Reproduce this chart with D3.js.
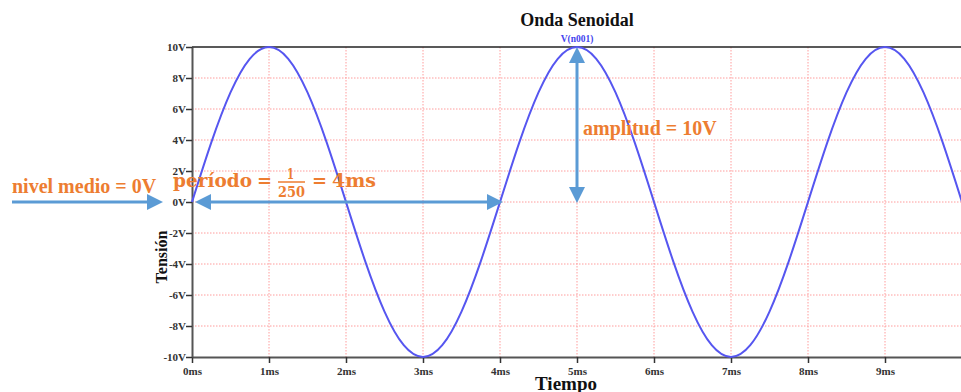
<!DOCTYPE html>
<html>
<head>
<meta charset="utf-8">
<script src="https://cdn.jsdelivr.net/npm/d3@7"></script>
<style>
  body { margin: 0; background: #fff; }
  svg { display: block; }
  text { font-family: "Liberation Serif", "Times New Roman", serif; font-weight: bold; }
</style>
</head>
<body>
<svg id="chart" width="961" height="392"></svg>
<script>
// DATA
// tiempo (ms), muestras cada 0.25 ms leidas de la traza
const tiempo = [
  0, 0.25, 0.5, 0.75, 1, 1.25, 1.5, 1.75, 2, 2.25, 2.5, 2.75, 3, 3.25, 3.5, 3.75,
  4, 4.25, 4.5, 4.75, 5, 5.25, 5.5, 5.75, 6, 6.25, 6.5, 6.75, 7, 7.25, 7.5, 7.75,
  8, 8.25, 8.5, 8.75, 9, 9.25, 9.5, 9.75, 10
];
// tension (V)
const tension = [
  0, 3.83, 7.07, 9.24, 10, 9.24, 7.07, 3.83, 0, -3.83, -7.07, -9.24, -10, -9.24, -7.07, -3.83,
  0, 3.83, 7.07, 9.24, 10, 9.24, 7.07, 3.83, 0, -3.83, -7.07, -9.24, -10, -9.24, -7.07, -3.83,
  0, 3.83, 7.07, 9.24, 10, 9.24, 7.07, 3.83, 0
];
const xTicks = [0, 1, 2, 3, 4, 5, 6, 7, 8, 9];
const yTicks = [10, 8, 6, 4, 2, 0, -2, -4, -6, -8, -10];

const titulo = "Onda Senoidal";
const serie = "V(n001)";

// SCALES
const svg = d3.select("#chart");
const x = d3.scaleLinear().domain([0, 10]).range([192, 962]);
const y = d3.scaleLinear().domain([-10, 10]).range([357, 47]);

const orange = "#ed7d31";
const blue = "#5b9bd5";

// GRID
svg.append("g")
  .selectAll("line")
  .data(xTicks.filter(d => d > 0))
  .join("line")
  .attr("x1", d => x(d)).attr("x2", d => x(d))
  .attr("y1", y(10)).attr("y2", y(-10))
  .attr("stroke", "#ff9c9c")
  .attr("stroke-width", 1)
  .attr("stroke-dasharray", "1.5,1.5");

svg.append("g")
  .selectAll("line")
  .data(yTicks.filter(d => d > -10 && d < 10))
  .join("line")
  .attr("x1", x(0)).attr("x2", 961)
  .attr("y1", d => y(d)).attr("y2", d => y(d))
  .attr("stroke", "#ff9c9c")
  .attr("stroke-width", 1)
  .attr("stroke-dasharray", "1.5,1.5");

// AXES
const xAxis = svg.append("g")
  .attr("transform", `translate(0,${y(-10)})`)
  .call(d3.axisBottom(x).tickValues(xTicks).tickFormat(d => d + "ms").tickSize(6).tickSizeOuter(0));
xAxis.select(".domain").attr("stroke", "#555").attr("stroke-width", 2);
xAxis.selectAll(".tick line").attr("stroke", "#333").attr("stroke-width", 1.5);
xAxis.selectAll(".tick text")
  .attr("y", 10)
  .style("font-family", "Liberation Serif, serif")
  .style("font-size", "11px").style("font-weight", "bold").attr("fill", "#333");

const yAxis = svg.append("g")
  .attr("transform", `translate(${x(0)},0)`)
  .call(d3.axisLeft(y).tickValues(yTicks).tickFormat(d => d + "V").tickSize(6).tickSizeOuter(0));
yAxis.select(".domain").attr("stroke", "#555").attr("stroke-width", 2);
yAxis.selectAll(".tick line").attr("stroke", "#333").attr("stroke-width", 1.5);
yAxis.selectAll(".tick text")
  .attr("x", -6)
  .style("font-family", "Liberation Serif, serif")
  .style("font-size", "11px").style("font-weight", "bold").attr("fill", "#333");

// top border
svg.append("line")
  .attr("x1", x(0)).attr("x2", 961)
  .attr("y1", y(10)).attr("y2", y(10))
  .attr("stroke", "#222").attr("stroke-width", 1.5);

// WAVE
const line = d3.line()
  .x(d => x(d[0]))
  .y(d => y(d[1]))
  .curve(d3.curveNatural);

svg.append("path")
  .datum(d3.zip(tiempo, tension))
  .attr("fill", "none")
  .attr("stroke", "#5656f0")
  .attr("stroke-width", 2)
  .attr("d", line);

// TITLES
svg.append("text")
  .attr("x", x(5)).attr("y", 26)
  .attr("text-anchor", "middle")
  .style("font-size", "18px").attr("fill", "#111")
  .text(titulo);

svg.append("text")
  .attr("x", x(5)).attr("y", 42)
  .attr("text-anchor", "middle")
  .style("font-size", "9.5px").attr("fill", "#4444ee")
  .text(serie);

svg.append("text")
  .attr("x", 566).attr("y", 390)
  .attr("text-anchor", "middle")
  .style("font-size", "19px").attr("fill", "#111")
  .text("Tiempo");

svg.append("text")
  .attr("transform", `translate(167,257) rotate(-90)`)
  .attr("text-anchor", "middle")
  .style("font-size", "16px").attr("fill", "#111")
  .text("Tensión");

// ANNOTATIONS
const arrow = (x1, y1, x2, y2, both) => {
  const ang = Math.atan2(y2 - y1, x2 - x1);
  const L = 16, W = 8;
  const head = (tx, ty, a) => {
    const bx = tx - L * Math.cos(a), by = ty - L * Math.sin(a);
    const px = -Math.sin(a) * W, py = Math.cos(a) * W;
    return `M${tx},${ty}L${bx + px},${by + py}L${bx - px},${by - py}Z`;
  };
  const sx = both ? x1 + L * Math.cos(ang) * 0.8 : x1;
  const sy = both ? y1 + L * Math.sin(ang) * 0.8 : y1;
  svg.append("line")
    .attr("x1", sx).attr("y1", sy)
    .attr("x2", x2 - L * Math.cos(ang) * 0.8).attr("y2", y2 - L * Math.sin(ang) * 0.8)
    .attr("stroke", blue).attr("stroke-width", 3);
  svg.append("path").attr("d", head(x2, y2, ang)).attr("fill", blue);
  if (both) svg.append("path").attr("d", head(x1, y1, ang + Math.PI)).attr("fill", blue);
};

arrow(12, y(0), 163, y(0), false);
arrow(195, y(0), 503, y(0), true);
arrow(x(5), y(10), x(5), y(0) + 1, true);

svg.append("text")
  .attr("x", 12).attr("y", 193)
  .style("font-size", "20px").attr("fill", orange)
  .text("nivel medio = 0V");

svg.append("text")
  .attr("x", 583).attr("y", 135)
  .style("font-size", "20px").attr("fill", orange)
  .text("amplitud = 10V");

// periodo = 1/250 = 4ms (tipografia matematica)
const per = svg.append("g").attr("fill", orange)
  .style("font-family", "DejaVu Serif, serif");
const perPart = (txt, px, py, size, len) =>
  per.append("text")
    .attr("x", px).attr("y", py)
    .style("font-family", "DejaVu Serif, serif")
    .style("font-size", size + "px")
    .attr("textLength", len)
    .attr("lengthAdjust", "spacingAndGlyphs")
    .text(txt);

perPart("período", 173, 187, 19, 79);
perPart("=", 257, 187, 19, 15);
perPart("1", 287, 179, 15, 7);
per.append("line")
  .attr("x1", 278).attr("x2", 305)
  .attr("y1", 182).attr("y2", 182)
  .attr("stroke", orange).attr("stroke-width", 1.5);
perPart("250", 278, 197, 15, 27);
perPart("=", 312, 187, 19, 15);
perPart("4ms", 332, 187, 19, 44);
</script>
</body>
</html>
